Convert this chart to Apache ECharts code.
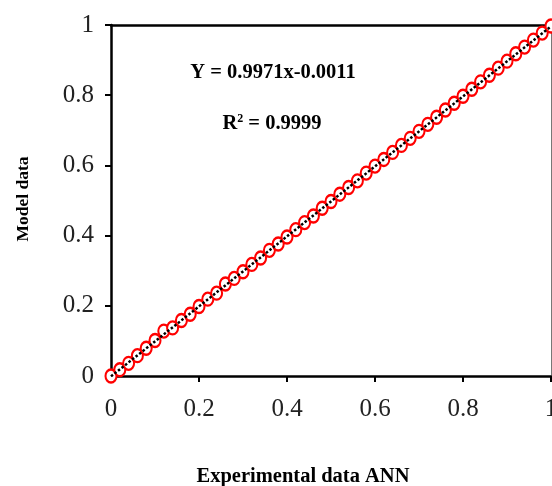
<!DOCTYPE html>
<html>
<head>
<meta charset="utf-8">
<script src="https://cdn.jsdelivr.net/npm/echarts@6/dist/echarts.min.js"></script>
<style>html,body{margin:0;padding:0;background:#fff;}#c{width:552px;height:486px;}</style>
</head>
<body>
<div id="c"></div>
<script>
var xValues = [0,0.02,0.04,0.06,0.08,0.10,0.12,0.14,0.16,0.18,0.20,0.22,0.24,0.26,0.28,0.30,0.32,0.34,0.36,0.38,0.40,0.42,0.44,0.46,0.48,0.50,0.52,0.54,0.56,0.58,0.60,0.62,0.64,0.66,0.68,0.70,0.72,0.74,0.76,0.78,0.80,0.82,0.84,0.86,0.88,0.90,0.92,0.94,0.96,0.98,1.00];
var modelValues = [0,0.018,0.036,0.058,0.079,0.101,0.128,0.137,0.158,0.176,0.198,0.219,0.236,0.262,0.278,0.297,0.318,0.336,0.358,0.376,0.396,0.417,0.437,0.456,0.478,0.497,0.518,0.537,0.556,0.578,0.598,0.617,0.637,0.657,0.677,0.697,0.717,0.737,0.758,0.777,0.797,0.817,0.838,0.857,0.877,0.897,0.918,0.937,0.957,0.977,0.997];
var fitX = [0, 1];
var fitY = [-0.0011, 0.996];
var xTicks = ['0','0.2','0.4','0.6','0.8','1'];
var yTicks = ['0','0.2','0.4','0.6','0.8','1'];
var equationText = 'Y = 0.9971x-0.0011';
var r2Text = '= 0.9999';
var xName = 'Experimental data ANN';
var yName = 'Model data';

var chart = echarts.init(document.getElementById('c'));
var pts = xValues.map(function(x,i){return [x, modelValues[i]];});
var fit = fitX.map(function(x,i){return [x, fitY[i]];});
var serif = '"Liberation Serif","Times New Roman",serif';
function fmt(list){return function(v){var i=Math.round(v/0.2);return list[i]!==undefined?list[i]:'';};}
chart.setOption({
  animation:false,
  backgroundColor:'#fff',
  grid:{left:111,right:1,top:25,bottom:110,containLabel:false,outerBoundsMode:'none'},
  xAxis:[{
    type:'value',min:0,max:1,interval:0.2,position:'bottom',
    axisLine:{show:true,onZero:false,lineStyle:{color:'#000',width:2.5}},
    axisTick:{show:true,inside:false,length:6,lineStyle:{color:'#000',width:2}},
    axisLabel:{margin:21,fontFamily:serif,fontSize:25,color:'#222',formatter:fmt(xTicks),hideOverlap:false},
    splitLine:{show:false}
  },{
    type:'value',min:0,max:1,position:'top',
    axisLine:{show:true,onZero:false,lineStyle:{color:'#000',width:2.5}},
    axisTick:{show:false},axisLabel:{show:false},splitLine:{show:false}
  }],
  yAxis:[{
    type:'value',min:0,max:1,interval:0.2,position:'left',
    axisLine:{show:true,onZero:false,lineStyle:{color:'#000',width:2.5}},
    axisTick:{show:true,inside:false,length:6,lineStyle:{color:'#000',width:2}},
    axisLabel:{margin:17,fontFamily:serif,fontSize:25,color:'#222',formatter:fmt(yTicks)},
    splitLine:{show:false}
  },{
    type:'value',min:0,max:1,position:'right',
    axisLine:{show:true,onZero:false,lineStyle:{color:'#777',width:1}},
    axisTick:{show:false},axisLabel:{show:false},splitLine:{show:false}
  }],
  series:[{
    type:'scatter',data:pts,symbol:'circle',symbolSize:[11,13],clip:false,
    itemStyle:{color:'#ffffff',borderColor:'#ff0000',borderWidth:2.2,opacity:1},z:2
  },{
    type:'line',data:fit,showSymbol:false,symbol:'none',clip:true,
    lineStyle:{color:'#000',width:2.5,type:[2.5,2]},z:3
  }],
  graphic:[
    {type:'text',x:273,y:73,style:{text:equationText,font:'bold 20.5px '+serif,fill:'#000',textAlign:'center',textVerticalAlign:'middle'}},
    {type:'text',x:272,y:124,style:{text:'R{s|2} '+r2Text,rich:{s:{fontSize:12,fontWeight:'bold',fontFamily:serif,verticalAlign:'top',padding:[0,0,10,0]}},font:'bold 20.5px '+serif,fill:'#000',textAlign:'center',textVerticalAlign:'middle'}},
    {type:'text',x:303,y:477,style:{text:xName,font:'bold 20.5px '+serif,fill:'#000',textAlign:'center',textVerticalAlign:'middle'}},
    {type:'text',x:23,y:199,rotation:Math.PI/2,style:{text:yName,font:'bold 17.5px '+serif,fill:'#000',textAlign:'center',textVerticalAlign:'middle'}}
  ]
});
</script>
</body>
</html>
